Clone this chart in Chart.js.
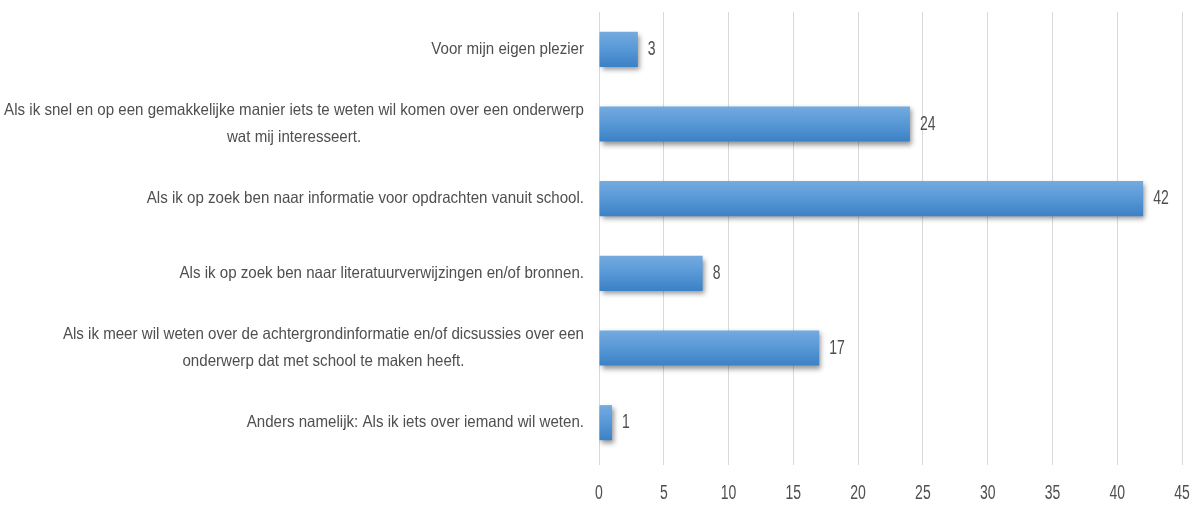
<!DOCTYPE html>
<html>
<head>
<meta charset="utf-8">
<script src="https://cdn.jsdelivr.net/npm/chart.js@4/dist/chart.umd.min.js"></script>
<style>
  html, body { margin: 0; padding: 0; background: #ffffff; }
  #wrap { width: 1196px; height: 505px; }
</style>
</head>
<body>
<div id="wrap"><canvas id="chart" width="1196" height="505"></canvas></div>
<script>
// Answer categories (each entry is a list of lines)
const categories = [
  ['Voor mijn eigen plezier'],
  ['Als ik snel en op een gemakkelijke manier iets te weten wil komen over een onderwerp', 'wat mij interesseert.'],
  ['Als ik op zoek ben naar informatie voor opdrachten vanuit school.'],
  ['Als ik op zoek ben naar literatuurverwijzingen en/of bronnen.'],
  ['Als ik meer wil weten over de achtergrondinformatie en/of dicsussies over een', 'onderwerp dat met school te maken heeft.'],
  ['Anders namelijk: Als ik iets over iemand wil weten.']
];

// Number of responses per category
const values = [3, 24, 42, 8, 17, 1];

// Value axis ticks
const xTicks = [0, 5, 10, 15, 20, 25, 30, 35, 40, 45];

const TEXT_COLOR = '#4f4f4f';
const LABEL_FONT = '16.5px "Liberation Sans", Arial, sans-serif';
const NUM_FONT = '20px "Liberation Sans", Arial, sans-serif';
const LABEL_SQUEEZE = 0.915;
const NUM_SQUEEZE = 0.7;
const BAR_PCT = 0.47;

// Draw text horizontally condensed around an anchor point
function drawCondensed(ctx, text, x, y, sx, align) {
  ctx.save();
  ctx.translate(x, y);
  ctx.scale(sx, 1);
  ctx.textAlign = align;
  ctx.fillText(text, 0, 0);
  ctx.restore();
}

// Vertical blue gradient per bar, computed from the category scale
function barGradient(context) {
  const chart = context.chart;
  const yScale = chart.scales && chart.scales.y;
  if (!yScale || context.dataIndex === undefined) return '#5b9bd5';
  const center = yScale.getPixelForValue(context.dataIndex);
  const band = Math.abs(yScale.getPixelForValue(1) - yScale.getPixelForValue(0));
  if (!isFinite(center) || !isFinite(band) || band === 0) return '#5b9bd5';
  const half = band * BAR_PCT / 2;
  const g = chart.ctx.createLinearGradient(0, center - half, 0, center + half);
  g.addColorStop(0, '#74aadf');
  g.addColorStop(0.45, '#5a9ad8');
  g.addColorStop(1, '#3b81c5');
  return g;
}

// Soft drop shadow under the bars
const barShadow = {
  id: 'barShadow',
  beforeDatasetsDraw(chart) {
    const ctx = chart.ctx;
    ctx.save();
    ctx.shadowColor = 'rgba(0, 0, 0, 0.42)';
    ctx.shadowBlur = 5;
    ctx.shadowOffsetX = 2;
    ctx.shadowOffsetY = 3;
  },
  afterDatasetsDraw(chart) {
    chart.ctx.restore();
  }
};

// Category labels, tick labels and value labels
const textLayer = {
  id: 'textLayer',
  afterDraw(chart) {
    const ctx = chart.ctx;
    const xScale = chart.scales.x;
    const yScale = chart.scales.y;
    const area = chart.chartArea;
    ctx.save();
    ctx.fillStyle = TEXT_COLOR;
    ctx.textBaseline = 'middle';

    // category labels: block right-aligned next to the axis, lines centred within it
    ctx.font = LABEL_FONT;
    const lineH = 27;
    const rightEdge = area.left - 15;
    categories.forEach((lines, i) => {
      const cy = yScale.getPixelForValue(i);
      const widths = lines.map(l => ctx.measureText(l).width * LABEL_SQUEEZE);
      const blockW = Math.max(...widths);
      const cx = rightEdge - blockW / 2;
      const y0 = cy - (lines.length - 1) * lineH / 2;
      lines.forEach((l, k) => drawCondensed(ctx, l, cx, y0 + k * lineH, LABEL_SQUEEZE, 'center'));
    });

    // value axis tick labels
    ctx.font = NUM_FONT;
    xTicks.forEach(v => {
      drawCondensed(ctx, String(v), xScale.getPixelForValue(v), area.bottom + 33, NUM_SQUEEZE, 'center');
    });

    // value labels at the end of each bar
    const meta = chart.getDatasetMeta(0);
    meta.data.forEach((bar, i) => {
      drawCondensed(ctx, String(values[i]), bar.x + 10, bar.y, NUM_SQUEEZE, 'left');
    });
    ctx.restore();
  }
};

new Chart(document.getElementById('chart'), {
  type: 'bar',
  data: {
    labels: categories,
    datasets: [{
      data: values,
      backgroundColor: barGradient,
      borderWidth: 0,
      categoryPercentage: 1,
      barPercentage: BAR_PCT
    }]
  },
  options: {
    indexAxis: 'y',
    responsive: false,
    animation: false,
    devicePixelRatio: 1,
    layout: { padding: { left: 599, right: 14, top: 12, bottom: 40 } },
    plugins: {
      legend: { display: false },
      tooltip: { enabled: false }
    },
    scales: {
      x: {
        min: 0,
        max: 45,
        ticks: { stepSize: 5, display: false },
        grid: { color: '#d9d9d9', lineWidth: 1, drawTicks: true, tickLength: 5 },
        border: { display: false }
      },
      y: {
        display: false
      }
    }
  },
  plugins: [barShadow, textLayer]
});
</script>
</body>
</html>
